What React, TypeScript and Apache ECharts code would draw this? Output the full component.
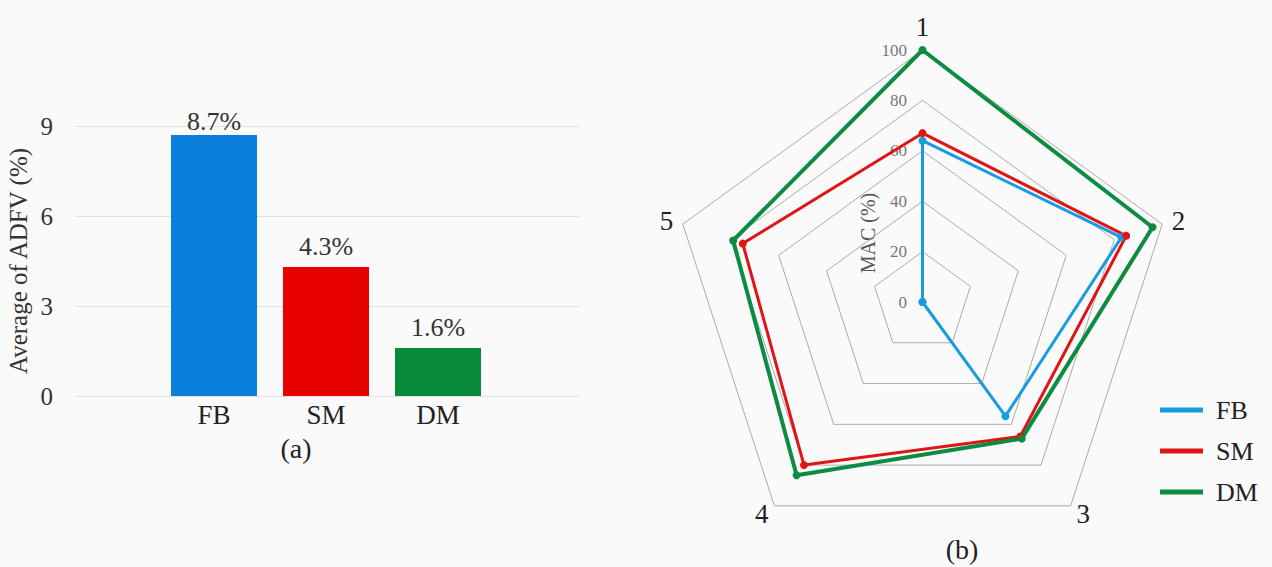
import React, { useEffect, useRef } from "react";
import * as echarts from "echarts";

const FONT = "'Liberation Serif', 'Times New Roman', serif";

// Left panel (a)
const barCategories = ["FB", "SM", "DM"];
const barValues = [8.7, 4.3, 1.6];
const barColors = ["#0a7fdc", "#e60000", "#078a3a"];
const barYMin = 0;
const barYMax = 9;
const barYInterval = 3;

// Right panel (b) — values per axis 1..5
const radarAxes = ["1", "2", "3", "4", "5"];
const macFB = [64, 83, 56, 0, 0];
const macSM = [67, 85, 66, 80, 75];
const macDM = [100, 96, 67, 85, 79];
const radarNames = ["FB", "SM", "DM"];
const radarColors = ["#1a9be0", "#e01414", "#0c8c42"];
const macMin = 0;
const macMax = 100;
const macInterval = 20;

// axes go clockwise in the figure; ECharts radar goes counter-clockwise
const radarOrder = [0, 4, 3, 2, 1];

export default function App() {
  const ref = useRef<HTMLDivElement>(null);
  useEffect(() => {
    if (!ref.current) return;
    const chart = echarts.init(ref.current, undefined, { renderer: "svg" });
    const radarData = [macFB, macSM, macDM];
    chart.setOption({
      animation: false,
      backgroundColor: "#fafafa",
      grid: [
        { left: 75, top: 126, width: 505, height: 270 },
        { left: 158, top: 126, width: 336, height: 270 },
        { left: 923, top: 50, width: 1, height: 252 },
      ],
      xAxis: [
        { gridIndex: 0, type: "category", data: barCategories, show: false },
        {
          gridIndex: 1,
          type: "category",
          data: barCategories,
          axisLine: { show: false },
          axisTick: { show: false },
          axisLabel: { fontFamily: FONT, fontSize: 27, color: "#222", margin: 5 },
        },
        { gridIndex: 2, type: "value", show: false },
      ],
      yAxis: [
        {
          gridIndex: 0,
          type: "value",
          min: barYMin,
          max: barYMax,
          interval: barYInterval,
          name: "Average of ADFV (%)",
          nameLocation: "middle",
          nameGap: 44,
          nameTextStyle: { fontFamily: FONT, fontSize: 25, color: "#333" },
          axisLine: { show: false },
          axisTick: { show: false },
          axisLabel: { fontFamily: FONT, fontSize: 25, color: "#333", margin: 22 },
          splitLine: { lineStyle: { color: "#e2e2e2", width: 1 } },
        },
        {
          gridIndex: 1,
          type: "value",
          min: barYMin,
          max: barYMax,
          interval: barYInterval,
          show: false,
          splitLine: { show: false },
        },
        {
          gridIndex: 2,
          type: "value",
          min: macMin,
          max: macMax,
          interval: macInterval,
          axisLine: { show: false },
          axisTick: { show: false },
          splitLine: { show: false },
          axisLabel: { fontFamily: FONT, fontSize: 17, color: "#777", margin: 16 },
        },
      ],
      radar: {
        center: [922.5, 302],
        radius: 252,
        startAngle: 90,
        shape: "polygon",
        splitNumber: 5,
        indicator: radarOrder.map((i) => ({ name: radarAxes[i], min: macMin, max: macMax })),
        axisName: { fontFamily: FONT, fontSize: 27, color: "#222" },
        nameGap: 10,
        axisLine: { show: false },
        axisTick: { show: false },
        axisLabel: { show: false },
        splitArea: { show: false },
        splitLine: { lineStyle: { color: "#ababab", width: 1 } },
      },
      legend: {
        orient: "vertical",
        left: 1155,
        top: 392,
        itemGap: 15,
        itemWidth: 43,
        itemHeight: 5,
        icon: "rect",
        data: radarNames,
        textStyle: { fontFamily: FONT, fontSize: 26, color: "#222", padding: [0, 0, 0, 8] },
      },
      graphic: [
        {
          type: "text",
          x: 296,
          y: 448,
          style: { text: "(a)", font: `28px ${FONT}`, fill: "#222", align: "center", verticalAlign: "middle" },
        },
        {
          type: "text",
          x: 962,
          y: 549,
          style: { text: "(b)", font: `28px ${FONT}`, fill: "#222", align: "center", verticalAlign: "middle" },
        },
        {
          type: "text",
          x: 868,
          y: 233,
          rotation: Math.PI / 2,
          style: { text: "MAC (%)", font: `20px ${FONT}`, fill: "#555", align: "center", verticalAlign: "middle" },
        },
      ],
      series: [
        {
          type: "bar",
          xAxisIndex: 1,
          yAxisIndex: 1,
          barWidth: 86,
          data: barValues.map((v, i) => ({
            value: v,
            itemStyle: { color: barColors[i] },
            label: { distance: i === 0 ? 1 : 8 },
          })),
          label: {
            show: true,
            position: "top",
            formatter: (p: any) => `${p.value}%`,
            fontFamily: FONT,
            fontSize: 26,
            color: "#333",
          },
        },
        {
          type: "radar",
          symbol: "circle",
          symbolSize: 8,
          data: radarData.map((vals, i) => ({
            name: radarNames[i],
            value: radarOrder.map((k) => vals[k]),
            lineStyle: { color: radarColors[i], width: i === 2 ? 4 : 3 },
            itemStyle: { color: radarColors[i] },
          })),
        },
      ],
    });
    return () => chart.dispose();
  }, []);
  return (
    <div
      ref={ref}
      style={{ position: "fixed", left: 0, top: 0, width: 1272, height: 567 }}
    />
  );
}
